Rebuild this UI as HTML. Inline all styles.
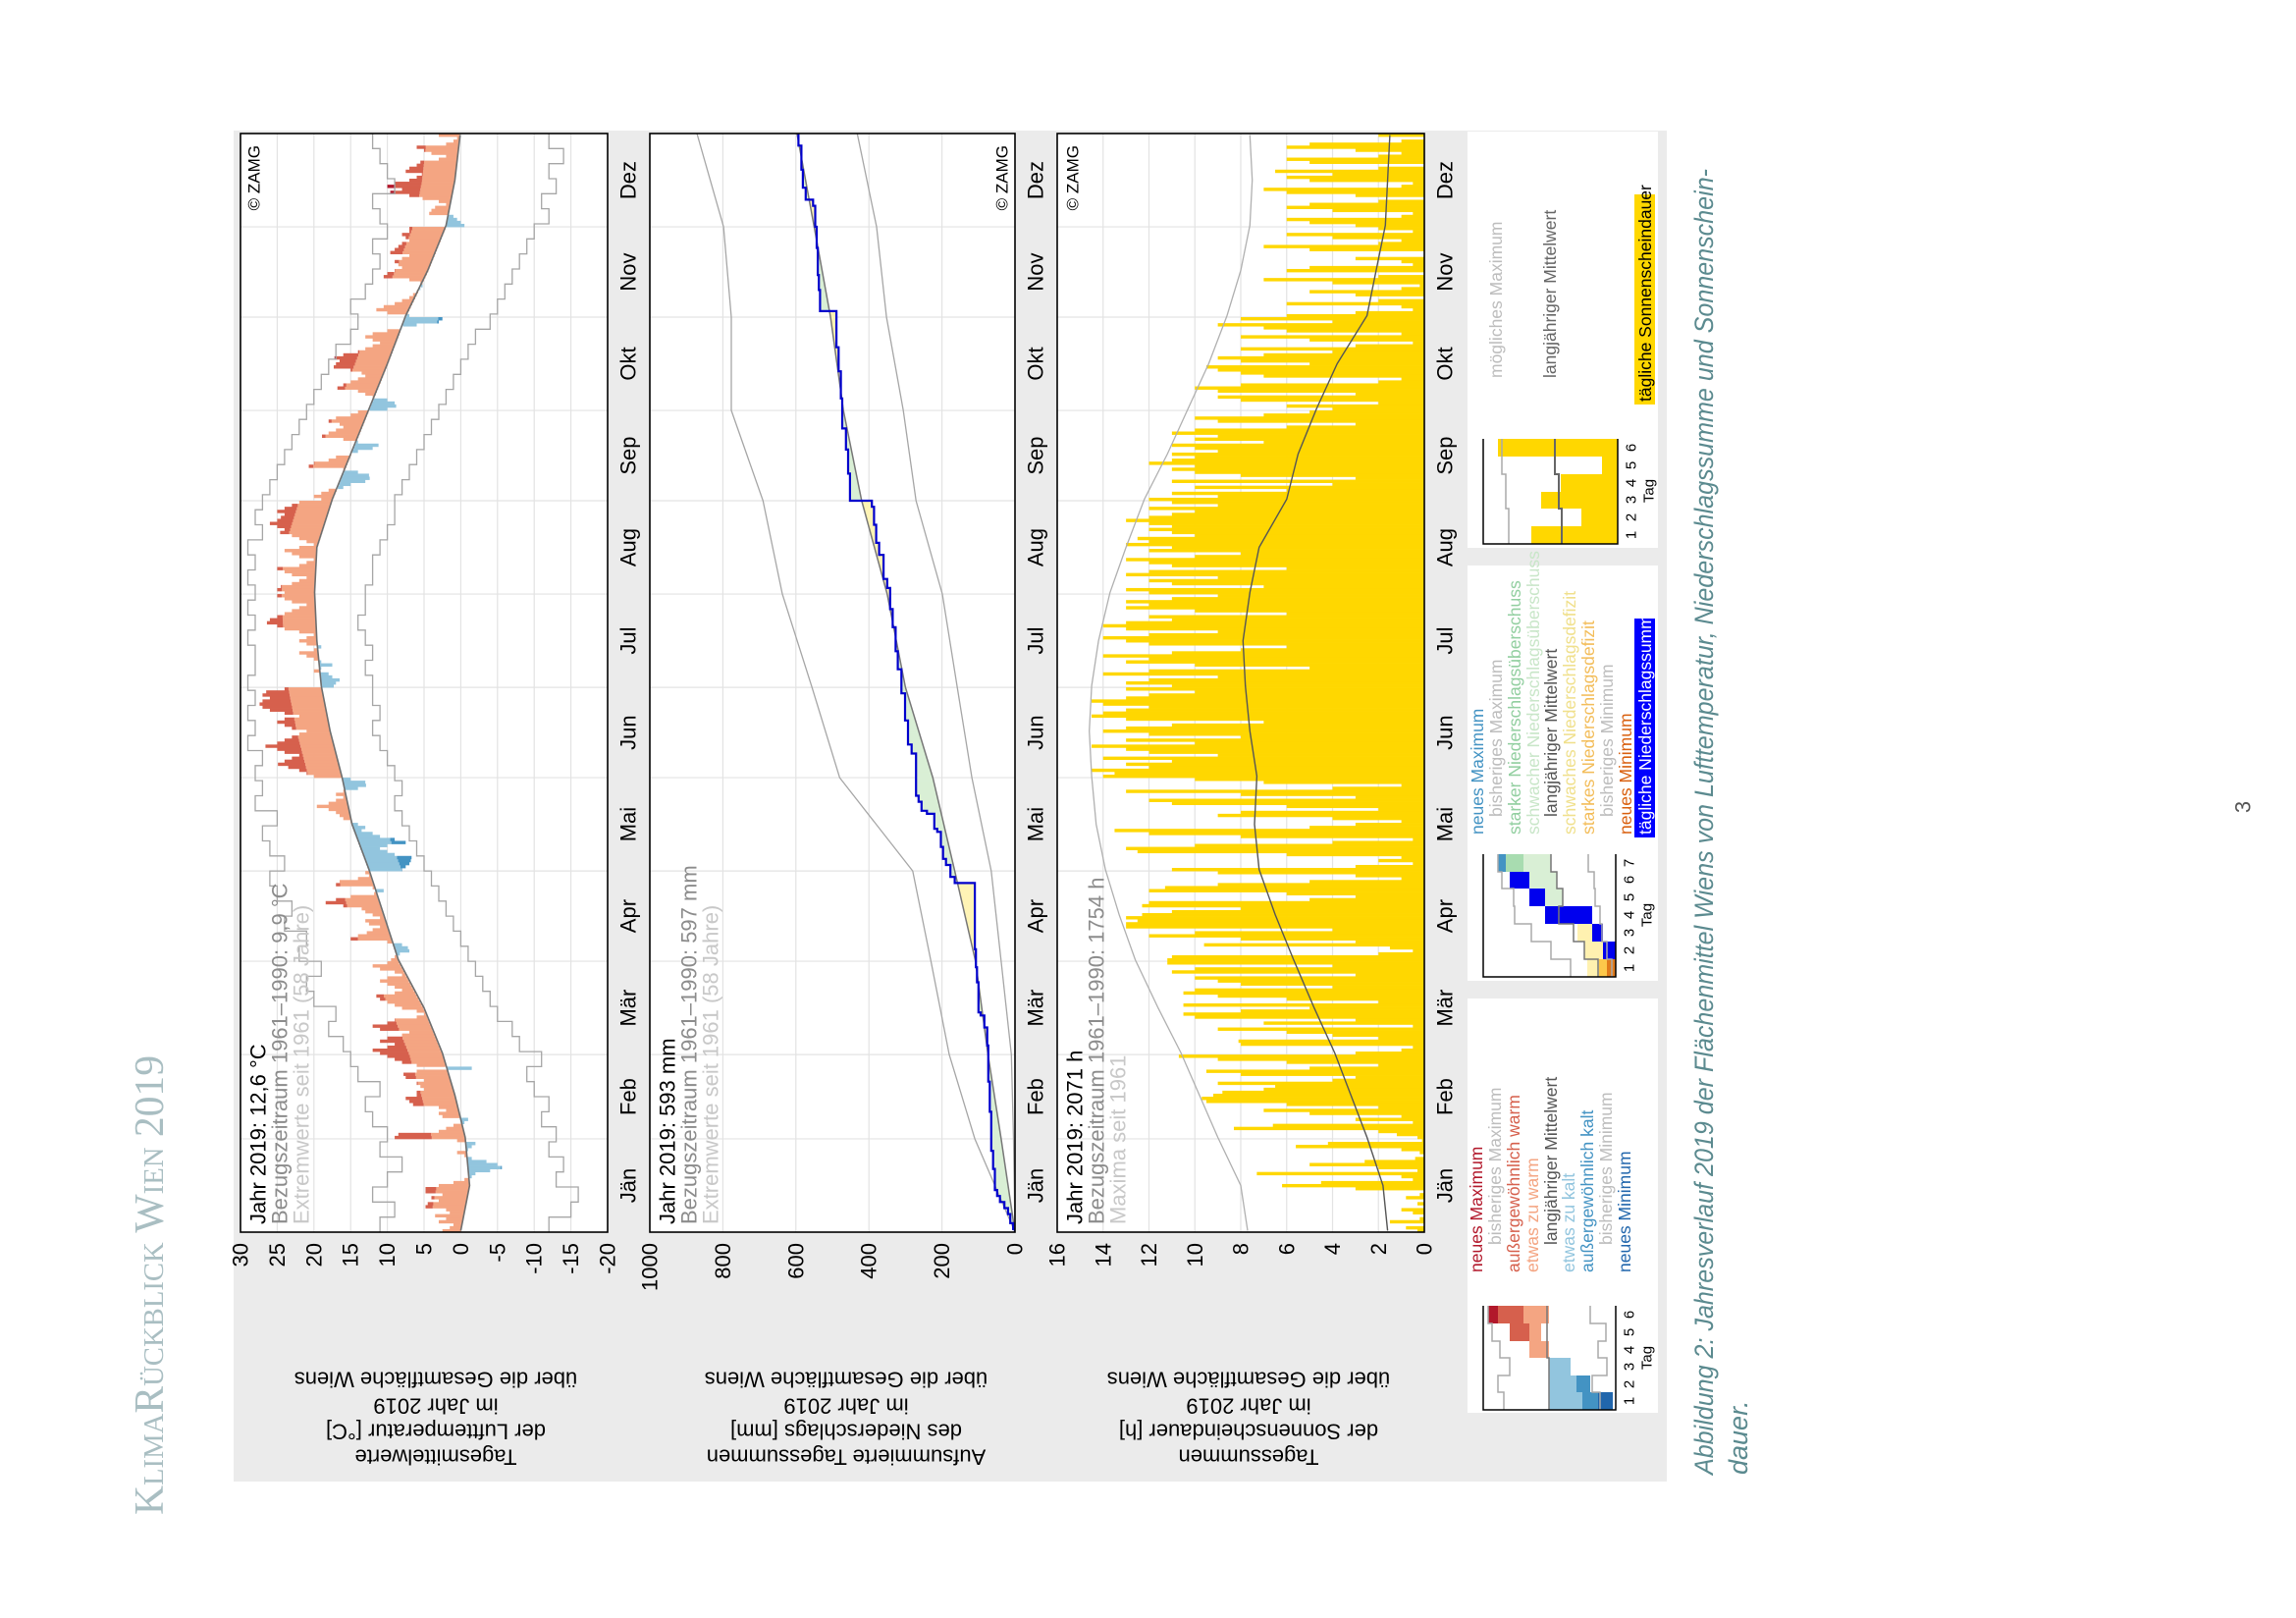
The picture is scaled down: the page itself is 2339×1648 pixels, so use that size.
<!DOCTYPE html>
<html><head><meta charset="utf-8"><title>Jahresverlauf 2019 Wien</title>
<style>
html,body{margin:0;padding:0;background:#fff;}
svg{display:block;font-family:"Liberation Sans",Arial,sans-serif;}
</style></head>
<body>
<svg id="root" width="2339" height="1648" viewBox="0 0 2339 1648" xmlns="http://www.w3.org/2000/svg">
<defs>
<clipPath id="c1"><rect x="245" y="136" width="374" height="1119"/></clipPath>
<clipPath id="c2"><rect x="662" y="136" width="372" height="1119"/></clipPath>
<clipPath id="c3"><rect x="1077" y="136" width="374" height="1119"/></clipPath>
</defs>
<rect x="0" y="0" width="2339" height="1648" fill="#fff"/>
<text transform="translate(166,1543) rotate(-90)" font-family="Liberation Serif,serif" font-size="42" fill="#a9bec2" style="font-variant:small-caps" textLength="468" lengthAdjust="spacingAndGlyphs">KlimaRückblick Wien 2019</text>
<rect x="238" y="133" width="1460" height="1376" fill="#ebebeb"/>
<rect x="245" y="136" width="374" height="1119" fill="#fff"/>
<rect x="662" y="136" width="372" height="1119" fill="#fff"/>
<rect x="1077" y="136" width="374" height="1119" fill="#fff"/>
<g id="grid"></g>
<g id="p1" clip-path="url(#c1)"></g>
<g id="p2" clip-path="url(#c2)"></g>
<g id="p3" clip-path="url(#c3)"></g>
<rect x="245" y="136" width="374" height="1119" fill="none" stroke="#000" stroke-width="1.6"/>
<rect x="662" y="136" width="372" height="1119" fill="none" stroke="#000" stroke-width="1.6"/>
<rect x="1077" y="136" width="374" height="1119" fill="none" stroke="#000" stroke-width="1.6"/>
<g id="labels" font-size="22"></g>

<!-- info texts -->
<g font-size="22">
<text transform="translate(263,1247) rotate(-90)" dominant-baseline="central" fill="#000">Jahr 2019: 12,6 °C</text>
<text transform="translate(285,1247) rotate(-90)" dominant-baseline="central" fill="#8c8c8c">Bezugszeitraum 1961–1990: 9,9 °C</text>
<text transform="translate(307,1247) rotate(-90)" dominant-baseline="central" fill="#c8c8c8">Extremwerte seit 1961 (58 Jahre)</text>
<text transform="translate(680,1247) rotate(-90)" dominant-baseline="central" fill="#000">Jahr 2019: 593 mm</text>
<text transform="translate(702,1247) rotate(-90)" dominant-baseline="central" fill="#8c8c8c">Bezugszeitraum 1961–1990: 597 mm</text>
<text transform="translate(724,1247) rotate(-90)" dominant-baseline="central" fill="#c8c8c8">Extremwerte seit 1961 (58 Jahre)</text>
<text transform="translate(1095,1247) rotate(-90)" dominant-baseline="central" fill="#000">Jahr 2019: 2071 h</text>
<text transform="translate(1117,1247) rotate(-90)" dominant-baseline="central" fill="#8c8c8c">Bezugszeitraum 1961–1990: 1754 h</text>
<text transform="translate(1139,1247) rotate(-90)" dominant-baseline="central" fill="#c8c8c8">Maxima seit 1961</text>
</g>
<g font-size="17" fill="#000">
<text transform="translate(259,148) rotate(-90)" text-anchor="end" dominant-baseline="central">© ZAMG</text>
<text transform="translate(1021,148) rotate(-90)" text-anchor="end" dominant-baseline="central">© ZAMG</text>
<text transform="translate(1093,148) rotate(-90)" text-anchor="end" dominant-baseline="central">© ZAMG</text>
</g>

<!-- axis titles (upside down) -->
<g font-size="22" fill="#000" text-anchor="middle" dominant-baseline="central">
<text transform="translate(444,1484) rotate(180)">Tagesmittelwerte</text>
<text transform="translate(444,1458) rotate(180)">der Lufttemperatur [°C]</text>
<text transform="translate(444,1432) rotate(180)">im Jahr 2019</text>
<text transform="translate(444,1405) rotate(180)">über die Gesamtfläche Wiens</text>
<text transform="translate(862,1484) rotate(180)">Aufsummierte Tagessummen</text>
<text transform="translate(862,1458) rotate(180)">des Niederschlags [mm]</text>
<text transform="translate(862,1432) rotate(180)">im Jahr 2019</text>
<text transform="translate(862,1405) rotate(180)">über die Gesamtfläche Wiens</text>
<text transform="translate(1272,1484) rotate(180)">Tagessummen</text>
<text transform="translate(1272,1458) rotate(180)">der Sonnenscheindauer [h]</text>
<text transform="translate(1272,1432) rotate(180)">im Jahr 2019</text>
<text transform="translate(1272,1405) rotate(180)">über die Gesamtfläche Wiens</text>
</g>

<!-- legend boxes -->
<rect x="1495" y="134" width="194" height="424" fill="#fff"/>
<rect x="1495" y="576" width="194" height="423" fill="#fff"/>
<rect x="1495" y="1017" width="194" height="422" fill="#fff"/>

<!-- temp legend -->
<g>
<rect x="1578" y="1418" width="34" height="18" fill="#92c5de"/><rect x="1612" y="1418" width="16" height="18" fill="#4393c3"/><rect x="1628" y="1418" width="15" height="18" fill="#2166ac"/>
<rect x="1578" y="1401" width="28" height="17" fill="#92c5de"/><rect x="1606" y="1401" width="14" height="17" fill="#4393c3"/>
<rect x="1578" y="1383" width="22" height="18" fill="#92c5de"/>
<rect x="1558" y="1366" width="20" height="17" fill="#f4a582"/>
<rect x="1538" y="1348" width="20" height="18" fill="#d6604d"/><rect x="1558" y="1348" width="12" height="18" fill="#f4a582"/>
<rect x="1516" y="1330" width="10" height="18" fill="#b2182b"/><rect x="1526" y="1330" width="26" height="18" fill="#d6604d"/><rect x="1552" y="1330" width="26" height="18" fill="#f4a582"/>
<path d="M1578 1436 V1383 H1576 V1330" fill="none" stroke="#777" stroke-width="1.5"/>
<path d="M1532 1436 V1418 H1526 V1401 H1538 V1383 H1528 V1366 H1520 V1348 H1516 V1330" fill="none" stroke="#aaa" stroke-width="1.5"/>
<path d="M1630 1436 V1418 H1622 V1401 H1637 V1383 H1628 V1366 H1636 V1348 H1620 V1330" fill="none" stroke="#aaa" stroke-width="1.5"/>
<path d="M1511 1330 V1436 H1646 V1330" fill="none" stroke="#000" stroke-width="1.5"/>
<g font-size="15" fill="#000" dominant-baseline="central" text-anchor="middle">
<text transform="translate(1660,1427) rotate(-90)">1</text><text transform="translate(1660,1410) rotate(-90)">2</text><text transform="translate(1660,1392) rotate(-90)">3</text><text transform="translate(1660,1375) rotate(-90)">4</text><text transform="translate(1660,1357) rotate(-90)">5</text><text transform="translate(1660,1339) rotate(-90)">6</text>
<text transform="translate(1678,1383) rotate(-90)">Tag</text>
</g>
<g font-size="17.5" dominant-baseline="central">
<text transform="translate(1504,1296) rotate(-90)" fill="#b2182b">neues Maximum</text>
<text transform="translate(1523,1268) rotate(-90)" fill="#bdbdbd">bisheriges Maximum</text>
<text transform="translate(1542,1296) rotate(-90)" fill="#d6604d">außergewöhnlich warm</text>
<text transform="translate(1561,1296) rotate(-90)" fill="#f4a582">etwas zu warm</text>
<text transform="translate(1580,1268) rotate(-90)" fill="#555">langjähriger Mittelwert</text>
<text transform="translate(1598,1296) rotate(-90)" fill="#92c5de">etwas zu kalt</text>
<text transform="translate(1617,1296) rotate(-90)" fill="#4393c3">außergewöhnlich kalt</text>
<text transform="translate(1636,1268) rotate(-90)" fill="#bdbdbd">bisheriges Minimum</text>
<text transform="translate(1655,1296) rotate(-90)" fill="#2166ac">neues Minimum</text>
</g>
</g>

<!-- precip legend -->
<g>
<rect x="1617" y="977" width="12" height="18" fill="#fff1b0"/><rect x="1629" y="977" width="8" height="18" fill="#fdc84a"/><rect x="1637" y="977" width="9" height="18" fill="#e07a1a"/>
<rect x="1614" y="959" width="19" height="18" fill="#fff1b0"/><rect x="1633" y="959" width="13" height="18" fill="#0000ee"/>
<rect x="1607" y="941" width="15" height="18" fill="#fff1b0"/><rect x="1622" y="941" width="11" height="18" fill="#0000ee"/>
<rect x="1574" y="923" width="48" height="18" fill="#0000ee"/>
<rect x="1558" y="905" width="16" height="18" fill="#0000ee"/><rect x="1574" y="905" width="18" height="18" fill="#d9efd5"/>
<rect x="1538" y="888" width="20" height="17" fill="#0000ee"/><rect x="1558" y="888" width="28" height="17" fill="#d9efd5"/>
<rect x="1526" y="870" width="8" height="18" fill="#4393c3"/><rect x="1534" y="870" width="18" height="18" fill="#a8dcb0"/><rect x="1552" y="870" width="28" height="18" fill="#d9efd5"/>
<path d="M1628 995 V977 H1614 V959 H1603 V941 H1588 V923 H1592 V905 H1586 V888 H1580 V870" fill="none" stroke="#777" stroke-width="1.5"/>
<path d="M1600 995 V977 H1580 V959 H1560 V941 H1543 V923 H1542 V905 H1530 V888 H1526 V870" fill="none" stroke="#aaa" stroke-width="1.5"/>
<path d="M1642 995 V977 H1637 V959 H1632 V941 H1630 V923 H1625 V905 H1624 V888 H1618 V870" fill="none" stroke="#aaa" stroke-width="1.5"/>
<path d="M1511 870 V995 H1646 V870" fill="none" stroke="#000" stroke-width="1.5"/>
<g font-size="15" fill="#000" dominant-baseline="central" text-anchor="middle">
<text transform="translate(1660,986) rotate(-90)">1</text><text transform="translate(1660,968) rotate(-90)">2</text><text transform="translate(1660,950) rotate(-90)">3</text><text transform="translate(1660,932) rotate(-90)">4</text><text transform="translate(1660,914) rotate(-90)">5</text><text transform="translate(1660,896) rotate(-90)">6</text><text transform="translate(1660,879) rotate(-90)">7</text>
<text transform="translate(1678,932) rotate(-90)">Tag</text>
</g>
<g font-size="17.5" dominant-baseline="central">
<text transform="translate(1505,850) rotate(-90)" fill="#4393c3">neues Maximum</text>
<text transform="translate(1524,832) rotate(-90)" fill="#bdbdbd">bisheriges Maximum</text>
<text transform="translate(1543,850) rotate(-90)" fill="#92cfa0">starker Niederschlagsüberschuss</text>
<text transform="translate(1562,850) rotate(-90)" fill="#c8e6c8">schwacher Niederschlagsüberschuss</text>
<text transform="translate(1580,832) rotate(-90)" fill="#555">langjähriger Mittelwert</text>
<text transform="translate(1599,850) rotate(-90)" fill="#f0e08c">schwaches Niederschlagsdefizit</text>
<text transform="translate(1618,850) rotate(-90)" fill="#f3bd5a">starkes Niederschlagsdefizit</text>
<text transform="translate(1637,832) rotate(-90)" fill="#bdbdbd">bisheriges Minimum</text>
<text transform="translate(1656,850) rotate(-90)" fill="#d95f0e">neues Minimum</text>
<rect x="1665" y="630" width="21" height="223" fill="#0000ff"/>
<text transform="translate(1676,850) rotate(-90)" fill="#fff">tägliche Niederschlagssumme</text>
</g>
</g>

<!-- sun legend -->
<g>
<rect x="1560" y="536" width="88" height="18" fill="#ffd700"/>
<rect x="1611" y="518" width="37" height="18" fill="#ffd700"/>
<rect x="1570" y="501" width="78" height="17" fill="#ffd700"/>
<rect x="1590" y="483" width="58" height="18" fill="#ffd700"/>
<rect x="1632" y="465" width="16" height="18" fill="#ffd700"/>
<rect x="1526" y="447" width="122" height="18" fill="#ffd700"/>
<path d="M1591 554 V518 H1588 V483 H1584 V447" fill="none" stroke="#666" stroke-width="2"/>
<path d="M1537 554 V518 H1534 V483 H1530 V447" fill="none" stroke="#aaa" stroke-width="1.5"/>
<path d="M1511 447 V554 H1648 V447" fill="none" stroke="#000" stroke-width="1.5"/>
<g font-size="15" fill="#000" dominant-baseline="central" text-anchor="middle">
<text transform="translate(1662,545) rotate(-90)">1</text><text transform="translate(1662,527) rotate(-90)">2</text><text transform="translate(1662,509) rotate(-90)">3</text><text transform="translate(1662,492) rotate(-90)">4</text><text transform="translate(1662,474) rotate(-90)">5</text><text transform="translate(1662,456) rotate(-90)">6</text>
<text transform="translate(1680,500) rotate(-90)">Tag</text>
</g>
<g font-size="17.5" dominant-baseline="central">
<text transform="translate(1524,385) rotate(-90)" fill="#bdbdbd">mögliches Maximum</text>
<text transform="translate(1579,385) rotate(-90)" fill="#666">langjähriger Mittelwert</text>
<rect x="1665" y="198" width="21" height="214" fill="#ffd700"/>
<text transform="translate(1676,409) rotate(-90)" fill="#000">tägliche Sonnenscheindauer</text>
</g>
</g>

<text transform="translate(1736,1502) rotate(-90)" dominant-baseline="central" font-size="27" font-style="italic" fill="#5b8a8f" textLength="1330" lengthAdjust="spacingAndGlyphs">Abbildung 2: Jahresverlauf 2019 der Flächenmittel Wiens von Lufttemperatur, Niederschlagssumme und Sonnenschein-</text>
<text transform="translate(1771,1502) rotate(-90)" dominant-baseline="central" font-size="27" font-style="italic" fill="#5b8a8f">dauer.</text>
<text transform="translate(2285,822) rotate(-90)" text-anchor="middle" dominant-baseline="central" font-size="22" fill="#555">3</text>
</svg>

<script>
// ---------- data ----------
const months = ["Jän","Feb","Mär","Apr","Mai","Jun","Jul","Aug","Sep","Okt","Nov","Dez"];
const monthStart = [0,31,59,90,120,151,181,212,243,273,304,334,365];
const anchorDays = [0,15,31,45,59,74,90,105,120,135,151,166,181,196,212,227,243,258,273,288,304,319,334,349,364];

const tempTicks = [30,25,20,15,10,5,0,-5,-10,-15,-20];
const precipTicks = [1000,800,600,400,200,0];
const sunTicks = [16,14,12,10,8,6,4,2,0];

const tempDaily = [
2.5,1.5,1,3,2,3.5,1.5,2,4.8,4.5,3,4,2.5,4.8,4.8,3,1,-0.5,-1.5,-2,-4,-5.6,-5,-3.5,-1.5,-0.5,0.5,-1,-1.5,-2,0.5,
9,8.5,3,2,1,-0.5,-1,2.5,3,2,3,6.5,7,7.5,6,6,5,5.5,6,5,7.5,7.8,6,-1.5,6,8,9,10,
11,12,10,9,11,10,8,7,11,12,10,9,6,5,6,8,9,10,11,11.5,9,8,9,10,11,10,8,9,11,12,10,
9.5,9,8.3,7,7.2,8,10,15,14,12.8,12,11,12.5,13,11,12,13,13.5,16,18.4,17,15,11.8,10.5,12,17,16.5,14,12.5,13,
8,7.5,7,6.8,6.7,9,10,11,10,7.5,9,11,12,13.5,13,14,15,16,16.5,17,18,19.6,18,17,16,17,16,14,12.9,13,15,
20,21,22,23.5,24.9,24,23,22,24,25,26.6,25,24,23,22,21,23,24,25,24,22,24,26,27,27.4,27,26,27,26.5,24,
17.3,17,16.5,17.5,18,20,19,17.5,19,20,21,22,20,19,21,22,21,20,22,24,25,26.4,26,25,24,23,22,21,23,24,25,
24,25,24.5,23,22,21,23,24,25,22,21,20,22,23,24,22,20,21,22,23,24.6,24,25,26,25,24.5,24,25,24,23,22,
19,20,19,18,16,15,13,12.4,12.5,14,16,20.7,20,18,17,15,14,12,11.2,14,16,18.9,18,17,16,16.5,18,17,15,14,
10,8.8,9,10,12,13,14,16.8,16,15,14,13,13.5,15,17.3,17,16.5,17.2,16,14,13,12,11,12,13,12,10,8,6,3,2.5,
7,10,11.5,10.5,9,8,7,6.5,6,5.5,5.2,5.5,7,10.5,10,9,8,8.5,9,8,7,9.6,9,8.5,8,7,7.5,8,7,7,
-0.5,0,0.5,1,4.3,4,3.5,2,3,5.2,7,9.6,8,10,9,7,6,5.3,7.5,7,6,5.5,3,2,4,5,6,2,1,0.5,3];
const tempMean = [0,-1.2,-0.6,0.8,2.5,5.0,8.5,10.5,12.5,14.8,16.2,17.8,19.0,19.6,19.9,19.6,17.5,15.0,12.5,10.0,7.5,4.5,2.0,0.8,0.1];
const tempRecMax = [11,9,12,10,8,11, 10,12,13,11,14,15, 16,18,17,20,21,19, 22,21,24,23,25,26, 24,26,27,25,28,27, 28,27,29,28,29,28, 29,28,28,29,28,29, 28,29,28,29,27,28, 27,26,25,24,23,22, 21,20,19,18,17,15, 14,15,13,12,11,12, 10,11,12,9,10,11,12];
const tempRecMin = [-12,-15,-16,-13,-14,-12, -13,-11,-12,-10,-9,-11, -8,-7,-5,-4,-3,-2, -1,0,1,2,3,4, 5,6,7,8,9,8, 9,10,11,12,11,12, 12,13,12,13,14,13, 13,12,12,11,10,9, 9,8,7,6,5,4, 3,2,1,0,-1,-2, -4,-5,-6,-7,-8,-9, -10,-12,-11,-13,-12,-14,-12];

const rainDays = [1,3,6,8,10,12,14,21,27, 40,50, 62,68,72,73,83,88, 94,116,118, 122,124,128,133,134,139,140,143,145, 159,162,170,179, 187,193,201,207, 214,217,225,229,235,241, 243,252,260,267, 277,286,294, 306,313,318,327, 334,341,343,347,353,361];
const rainMm = [5,8,6,10,12,8,6,5,5, 4,4, 3,8,10,6,4,3, 3,55,12, 12,8,6,10,8,20,15,8,7, 12,10,8,10, 10,6,8,7, 8,10,12,8,6,6, 60,5,6,10, 4,6,6, 45,3,3,3, 4,6,20,8,4,8];
const precipMeanCum = [0,38,74,108,165,225,300,350,420,470,505,550,597];
const precipMaxCum = [0,110,180,230,280,480,556,637,690,777,777,798,871];
const precipMinCum = [0,4,10,38,65,118,158,199,271,306,352,379,432];

const sunDaily = [
0.3,0.8,0,1.5,0.2,0,0.5,1,0,0.3,0,0.8,0.2,0,3,6.2,4.5,0.5,1,7.3,0.3,2,5,2.6,0.4,0,0.2,1,5.6,4.2,0.1,
0.3,1.2,2,8.3,6.6,0.5,3,1,5,7,2,6,9.5,9.7,9.2,8.8,7,6.5,9,4,3,8,9.5,5,2,6,9,10.7,
3,1,0.5,8,8.1,2,4,6,9,0.5,7,3,10,10.5,8,5,10.5,2,6,9,10.5,10,4,8,9,10,3,11,10,4,11.2,
11.2,11,2,0.5,1.5,9.6,3,8,12,10,4,13,13,12.5,13,12.3,11,8,12.3,12,5,3,6,12,11.3,9,5,1,3,9,
11,3,0.5,2,1,6,12.5,13,10,4,0.5,8,12,13.5,5,3,1,4,9,8,2,6,11,12,3,8,13,4,1,7,10,
14,13.5,14.5,12,13,11,14,9,12,13,14.5,10,13,8,12,14,13,11,7,13,14.5,14,13,12,14,14.5,13,12,10,13,
11,13,12,9,14,12,5,10,13,12,14,11,8,6,12,13,14,12,9,13,14,13,11,12,6,10,13,12,13,11,9,
12,13,7,11,12,9,13,12,6,11,12,13,10,8,12,11,13,12,12.5,10,11,12,11,12,13,12,11,10,12,9,11,
12,9,11,6,10,4,11,3,8,10,11,10,12,11,10,11,9,10,11,7,10,9,11,10,6,3,9,10,7,5,
4,6,2,8,9,3,9,10,8,2,1,7,8,9,9.5,5,8,9,7,4,8,3,0.5,5,8,1,6,7,9,4,8,
6,3,0.5,1,6,2,0,3,5,1,0.2,4,7,2,0,6,5,0.5,1,3,0,0,5,7,2,1,4,6,0.5,2,
3,5,6,1,0.5,4,6,5,2,0,3,6,7,1,0.5,5,6,4,6.5,2,0,5,6,2,1,3,6,5,1,0,2];
const sunMaxPossible = [7.7,8.0,9.0,9.8,10.6,11.6,12.6,13.3,13.9,14.3,14.5,14.6,14.5,14.2,13.7,13.0,12.2,11.2,10.3,9.4,8.6,8.0,7.6,7.5,7.6];
const sunMean = [1.6,1.8,2.5,3.2,3.9,4.8,5.7,6.5,7.2,7.4,7.3,7.6,7.8,7.9,7.6,7.2,6.0,5.5,4.7,3.8,2.5,2.1,1.7,1.6,1.5];

// ---------- scales ----------
const NS = "http://www.w3.org/2000/svg";
const Y0 = 1255, Y1 = 136, ND = 365;
const DH = (Y0 - Y1) / ND;
function dayY(d){ return Y0 - d * DH; }
function xT(v){ return 245 + (30 - v) * (374 / 50); }
function xP(v){ return 662 + (1000 - v) * (372 / 1000); }
function xS(v){ return 1077 + (16 - v) * (374 / 16); }
function lookup(xs, ys, x){
  for (let i = 0; i < xs.length - 1; i++){
    if (x <= xs[i+1]){ const t = (x - xs[i]) / (xs[i+1] - xs[i]); return ys[i] + t * (ys[i+1] - ys[i]); }
  }
  return ys[ys.length - 1];
}
function el(tag, attrs, parent){
  const e = document.createElementNS(NS, tag);
  for (const k in attrs) e.setAttribute(k, attrs[k]);
  parent.appendChild(e);
  return e;
}

// ---------- grid and labels ----------
const grid = document.getElementById("grid");
const labels = document.getElementById("labels");
const panels = [[245,619,xT,tempTicks,"temp"],[662,1034,xP,precipTicks,"precip"],[1077,1451,xS,sunTicks,"sun"]];
panels.forEach(p => {
  monthStart.slice(1,12).forEach(ms => {
    const g = el("line", {x1:p[0], x2:p[1], y1:dayY(ms), y2:dayY(ms), stroke:"#e3e3e3", "stroke-width":1.2}, grid);
    
    
  });
  p[3].forEach(tv => {
    const gx = p[2](tv);
    if (gx > p[0] + 1 && gx < p[1] - 1){
      const g = el("line", {x1:gx, x2:gx, y1:Y1, y2:Y0, stroke:"#e3e3e3", "stroke-width":1.2}, grid);
      
      
    }
    const t = el("text", {transform:"translate(" + gx + ",1266) rotate(-90)", "text-anchor":"end", "dominant-baseline":"central", fill:"#000"}, labels);
    t.textContent = String(tv);
    
    
  });
});
const monthLabelX = [640, 1055, 1472];
monthLabelX.forEach((lx, pi) => {
  months.forEach((m, i) => {
    const cy = dayY((monthStart[i] + monthStart[i+1]) / 2);
    const t = el("text", {transform:"translate(" + lx + "," + cy + ") rotate(-90)", "text-anchor":"middle", "dominant-baseline":"central", fill:"#000"}, labels);
    t.textContent = m;
    
    
  });
});

// ---------- panel 1: temperature ----------
const p1 = document.getElementById("p1");
const TH = 4.5;
function hbar(lo, hi, d, color, parent, name){
  if (hi - lo <= 0.001) return;
  const r = el("rect", {x:xT(hi), y:dayY(d+1), width:xT(lo) - xT(hi), height:DH + 0.35, fill:color}, parent);
  
  
}
tempDaily.forEach((v, d) => {
  const m = lookup(anchorDays, tempMean, d + 0.5);
  const rmax = tempRecMax[Math.floor(d/5)], rmin = tempRecMin[Math.floor(d/5)];
  if (v >= m){
    const a = Math.min(v, m + TH);
    hbar(m, a, d, "#f4a582", p1, "temp-bar-warm");
    if (v > m + TH) hbar(m + TH, Math.min(v, Math.max(rmax, m + TH)), d, "#d6604d", p1, "temp-bar-very-warm");
    if (v > rmax) hbar(Math.max(rmax, m), v, d, "#b2182b", p1, "temp-bar-new-max");
  } else {
    const a = Math.max(v, m - TH);
    hbar(a, m, d, "#92c5de", p1, "temp-bar-cool");
    if (v < m - TH) hbar(Math.max(v, Math.min(rmin, m - TH)), m - TH, d, "#4393c3", p1, "temp-bar-very-cold");
    if (v < rmin) hbar(v, Math.min(rmin, m), d, "#2166ac", p1, "temp-bar-new-min");
  }
});
function stepPath(vals, xf){
  let s = "";
  vals.forEach((v, k) => {
    const d0 = k * 5, d1 = Math.min(365, k * 5 + 5);
    s += (k === 0 ? "M" : "L") + xf(v).toFixed(1) + " " + dayY(d0).toFixed(1) + " L" + xf(v).toFixed(1) + " " + dayY(d1).toFixed(1) + " ";
  });
  return s;
}
const recMaxLine = el("path", {d:stepPath(tempRecMax, xT), fill:"none", stroke:"#a6a6a6", "stroke-width":1.3}, p1);


const recMinLine = el("path", {d:stepPath(tempRecMin, xT), fill:"none", stroke:"#a6a6a6", "stroke-width":1.3}, p1);


const tMeanPts = anchorDays.map((d, i) => xT(tempMean[i]).toFixed(1) + "," + dayY(d + 0.5).toFixed(1)).join(" ");
const tMeanLine = el("polyline", {points:tMeanPts, fill:"none", stroke:"#6e6e6e", "stroke-width":1.6}, p1);



// ---------- panel 2: precipitation ----------
const p2 = document.getElementById("p2");
const cum = [];
let acc = 0;
for (let d = 0; d < ND; d++){
  rainDays.forEach((rd, i) => { if (rd === d) acc += rainMm[i]; });
  cum.push(acc);
}
cum.forEach((c, d) => {
  const m = lookup(monthStart, precipMeanCum, d + 0.5);
  const hi = Math.max(c, m), lo = Math.min(c, m);
  if (hi - lo < 0.3) return;
  const r = el("rect", {x:xP(hi), y:dayY(d+1), width:xP(lo) - xP(hi), height:DH + 0.35, fill: c > m ? "#d9efd5" : "#fff4b5"}, p2);
  
  
});
[[precipMaxCum,"precip-record-max-line"],[precipMinCum,"precip-record-min-line"]].forEach(pair => {
  const pts = monthStart.map((d, i) => xP(pair[0][i]).toFixed(1) + "," + dayY(d).toFixed(1)).join(" ");
  const l = el("polyline", {points:pts, fill:"none", stroke:"#a6a6a6", "stroke-width":1.3}, p2);
  
  
});
const pMeanPts = monthStart.map((d, i) => xP(precipMeanCum[i]).toFixed(1) + "," + dayY(d).toFixed(1)).join(" ");
const pMeanLine = el("polyline", {points:pMeanPts, fill:"none", stroke:"#777", "stroke-width":1.5}, p2);


let pd = "M" + xP(0).toFixed(1) + " " + dayY(0).toFixed(1);
cum.forEach((c, d) => { pd += " H" + xP(c).toFixed(1) + " V" + dayY(d+1).toFixed(1); });
const cumLine = el("path", {d:pd, fill:"none", stroke:"#0000cc", "stroke-width":2.2}, p2);



// ---------- panel 3: sunshine ----------
const p3 = document.getElementById("p3");
sunDaily.forEach((v, d) => {
  if (v <= 0) return;
  const r = el("rect", {x:xS(v), y:dayY(d+1), width:xS(0) - xS(v), height:DH + 0.35, fill:"#ffd700"}, p3);
  
  
});
const sMaxPts = anchorDays.map((d, i) => xS(sunMaxPossible[i]).toFixed(1) + "," + dayY(d + 0.5).toFixed(1)).join(" ");
const sMaxLine = el("polyline", {points:sMaxPts, fill:"none", stroke:"#b0b0b0", "stroke-width":1.3}, p3);


const sMeanPts = anchorDays.map((d, i) => xS(sunMean[i]).toFixed(1) + "," + dayY(d + 0.5).toFixed(1)).join(" ");
const sMeanLine = el("polyline", {points:sMeanPts, fill:"none", stroke:"#555", "stroke-width":1.4}, p3);


</script>
</body></html>
